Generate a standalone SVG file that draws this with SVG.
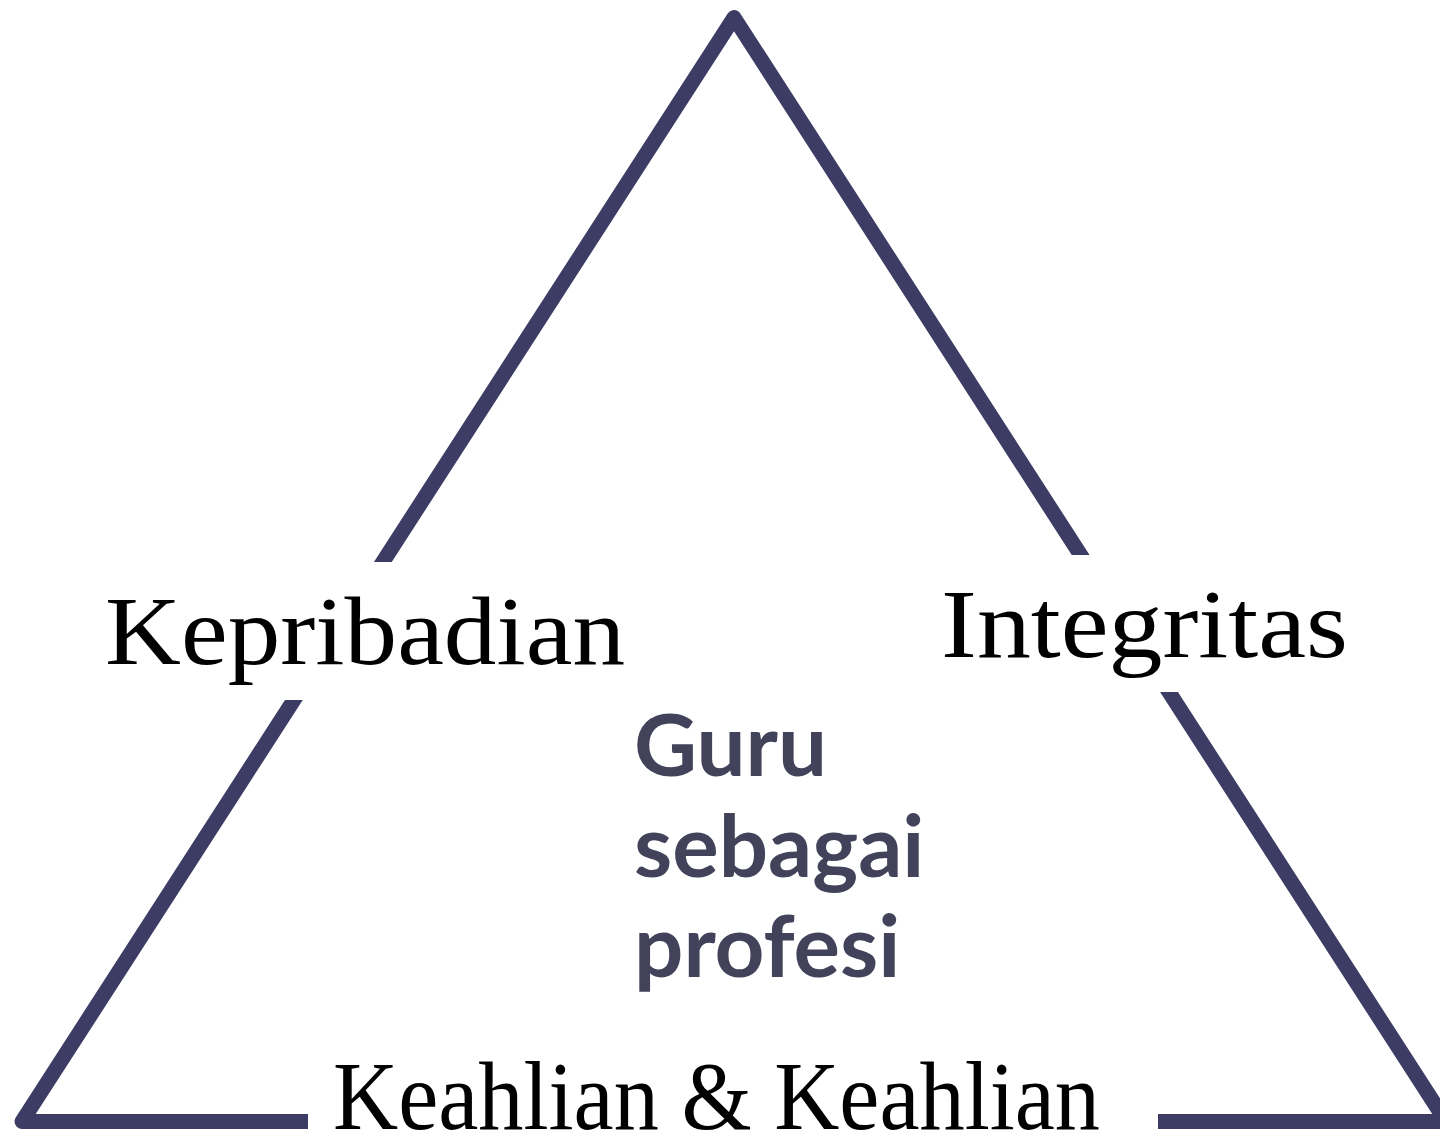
<svg xmlns="http://www.w3.org/2000/svg" width="1440" height="1132" viewBox="0 0 1440 1132">
<style>
.tri{fill:none;stroke:#3d3c64;stroke-width:15;stroke-linejoin:round}
.gap{fill:#ffffff}
.serif{font-family:"Liberation Serif","Times New Roman",serif;fill:#000000}
.center{font-family:Lato,"Open Sans",sans-serif;font-weight:bold;fill:#42435a;font-size:87px}
</style>
<rect width="1440" height="1132" fill="#ffffff"/>
<g id="triangle">
<polygon class="tri" points="734,17.5 1446,1121.5 22,1121.5"/>
<rect class="gap" x="250" y="562" width="190" height="138"/>
<rect class="gap" x="1030" y="555" width="190" height="137"/>
<rect class="gap" x="308" y="1100" width="850" height="32"/>
</g>
<g id="kepribadian">
<text class="serif" x="105" y="664" font-size="98" textLength="520" lengthAdjust="spacingAndGlyphs">Kepribadian</text>
</g>
<g id="integritas">
<text class="serif" x="941" y="657" font-size="98" textLength="407" lengthAdjust="spacingAndGlyphs">Integritas</text>
</g>
<g id="keahlian">
<text class="serif" x="333" y="1129" font-size="98" textLength="767" lengthAdjust="spacingAndGlyphs">Keahlian &amp; Keahlian</text>
</g>
<g id="guru">
<text class="center" x="634" y="776">Guru</text>
<text class="center" x="634" y="877">sebagai</text>
<text class="center" x="634" y="977">profesi</text>
</g>
</svg>
